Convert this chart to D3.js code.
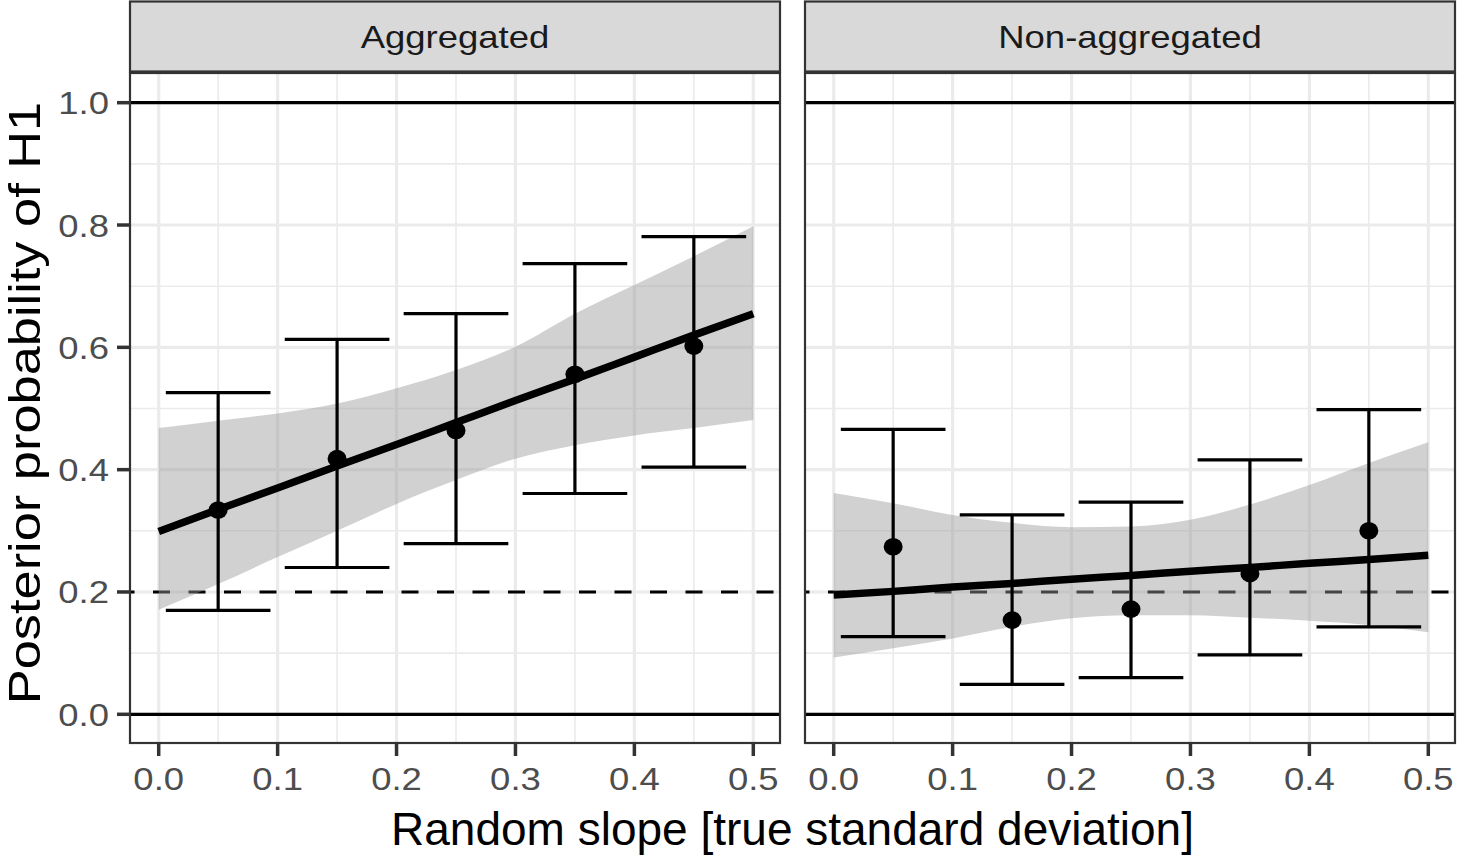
<!DOCTYPE html>
<html><head><meta charset="utf-8">
<script src="https://cdn.jsdelivr.net/npm/d3@7"></script>
<style>body{margin:0;background:#fff}svg{display:block}text{font-family:"Liberation Sans",Arial,sans-serif}</style>
</head><body>
<script>
// ---- data ----
const panels = ["Aggregated", "Non-aggregated"];
const pointX = [0.05, 0.15, 0.25, 0.35, 0.45];
const aggMean = [0.334, 0.418, 0.464, 0.556, 0.602];
const aggUpper = [0.526, 0.613, 0.655, 0.737, 0.781];
const aggLower = [0.170, 0.240, 0.279, 0.361, 0.404];
const nonMean = [0.274, 0.154, 0.172, 0.230, 0.300];
const nonUpper = [0.466, 0.326, 0.347, 0.416, 0.498];
const nonLower = [0.127, 0.049, 0.060, 0.097, 0.143];
const fitX = [0, 0.05, 0.1, 0.15, 0.2, 0.25, 0.3, 0.35, 0.4, 0.45, 0.5];
const aggFit = [0.299, 0.335, 0.370, 0.406, 0.441, 0.477, 0.513, 0.548, 0.584, 0.620, 0.655];
const aggFitHi = [0.468, 0.480, 0.492, 0.508, 0.533, 0.563, 0.601, 0.655, 0.702, 0.749, 0.798];
const aggFitLo = [0.171, 0.213, 0.257, 0.300, 0.344, 0.383, 0.418, 0.440, 0.456, 0.468, 0.481];
const nonFit = [0.195, 0.201, 0.208, 0.214, 0.221, 0.227, 0.234, 0.240, 0.247, 0.253, 0.260];
const nonFitHi = [0.362, 0.345, 0.326, 0.313, 0.306, 0.307, 0.318, 0.343, 0.375, 0.411, 0.445];
const nonFitLo = [0.093, 0.108, 0.124, 0.143, 0.157, 0.162, 0.162, 0.158, 0.153, 0.146, 0.134];
const xTicks = [0, 0.1, 0.2, 0.3, 0.4, 0.5];
const xMinor = [0.05, 0.15, 0.25, 0.35, 0.45];
const yTicks = [0, 0.2, 0.4, 0.6, 0.8, 1.0];
const yMinor = [0.1, 0.3, 0.5, 0.7, 0.9];
const hSolid = [0, 1];
const hDashed = [0.2];
const xTitle = "Random slope [true standard deviation]";
const yTitle = "Posterior probability of H1";

const series = [
  {mean: aggMean, up: aggUpper, lo: aggLower, fit: aggFit, hi: aggFitHi, flo: aggFitLo},
  {mean: nonMean, up: nonUpper, lo: nonLower, fit: nonFit, hi: nonFitHi, flo: nonFitLo}
];

// ---- layout ----
const W = 1457, H = 856;
const panelLeft = [130, 805], panelW = 650;
const panelTop = 73, panelBottom = 743;
const stripTop = 1.5, stripBottom = 71.5;
const TX = 1.14; // horizontal text stretch

const svg = d3.select("body").append("svg").attr("width", W).attr("height", H);
const y = d3.scaleLinear().domain([0, 1]).range([714.3, 102.7]);
const x = d3.scaleLinear().domain([0, 0.5]).range([28.7, 623.3]);
const fmt = d3.format(".1f");

panels.forEach((name, i) => {
  const s = series[i];
  const g = svg.append("g").attr("transform", `translate(${panelLeft[i]},0)`);
  const cid = "clip" + i;
  g.append("clipPath").attr("id", cid).append("rect")
    .attr("x", 0).attr("y", panelTop).attr("width", panelW).attr("height", panelBottom - panelTop);
  const pg = g.append("g").attr("clip-path", `url(#${cid})`);
  pg.append("rect").attr("x", 0).attr("y", panelTop).attr("width", panelW).attr("height", panelBottom - panelTop).attr("fill", "#fff");
  // grid
  pg.selectAll(".ymin").data(yMinor).join("line")
    .attr("x1", 0).attr("x2", panelW).attr("y1", d => y(d)).attr("y2", d => y(d))
    .attr("stroke", "#EBEBEB").attr("stroke-width", 1.6);
  pg.selectAll(".xmin").data(xMinor).join("line")
    .attr("y1", panelTop).attr("y2", panelBottom).attr("x1", d => x(d)).attr("x2", d => x(d))
    .attr("stroke", "#EBEBEB").attr("stroke-width", 1.6);
  pg.selectAll(".ymaj").data(yTicks).join("line")
    .attr("x1", 0).attr("x2", panelW).attr("y1", d => y(d)).attr("y2", d => y(d))
    .attr("stroke", "#EBEBEB").attr("stroke-width", 3.2);
  pg.selectAll(".xmaj").data(xTicks).join("line")
    .attr("y1", panelTop).attr("y2", panelBottom).attr("x1", d => x(d)).attr("x2", d => x(d))
    .attr("stroke", "#EBEBEB").attr("stroke-width", 3.2);
  // reference lines
  pg.selectAll(".hs").data(hSolid).join("line")
    .attr("x1", 0).attr("x2", panelW).attr("y1", d => y(d)).attr("y2", d => y(d))
    .attr("stroke", "#000").attr("stroke-width", 3.2);
  pg.selectAll(".hd").data(hDashed).join("line")
    .attr("x1", 0).attr("x2", panelW).attr("y1", d => y(d)).attr("y2", d => y(d))
    .attr("stroke", "#000").attr("stroke-width", 3.2).attr("stroke-dasharray", "17,18.5").attr("stroke-dashoffset", 12.5);
  // ribbon
  const area = d3.area().x((d, j) => x(fitX[j])).y0((d, j) => y(s.flo[j])).y1((d, j) => y(s.hi[j])).curve(d3.curveMonotoneX);
  pg.append("path").datum(fitX).attr("d", area).attr("fill", "#999999").attr("fill-opacity", 0.45);
  // fit line
  const line = d3.line().x((d, j) => x(fitX[j])).y((d, j) => y(s.fit[j])).curve(d3.curveMonotoneX);
  pg.append("path").datum(fitX).attr("d", line).attr("fill", "none").attr("stroke", "#000").attr("stroke-width", 7.5);
  // error bars
  const hw = 0.044;
  const eb = pg.selectAll(".eb").data(pointX).join("g");
  eb.append("line").attr("x1", d => x(d)).attr("x2", d => x(d))
    .attr("y1", (d, j) => y(s.lo[j])).attr("y2", (d, j) => y(s.up[j])).attr("stroke", "#000").attr("stroke-width", 3.2);
  eb.append("line").attr("x1", d => x(d - hw)).attr("x2", d => x(d + hw))
    .attr("y1", (d, j) => y(s.up[j])).attr("y2", (d, j) => y(s.up[j])).attr("stroke", "#000").attr("stroke-width", 3.2);
  eb.append("line").attr("x1", d => x(d - hw)).attr("x2", d => x(d + hw))
    .attr("y1", (d, j) => y(s.lo[j])).attr("y2", (d, j) => y(s.lo[j])).attr("stroke", "#000").attr("stroke-width", 3.2);
  // points
  pg.selectAll(".pt").data(pointX).join("ellipse")
    .attr("cx", d => x(d)).attr("cy", (d, j) => y(s.mean[j])).attr("rx", 9.5).attr("ry", 8.8).attr("fill", "#000");
  // panel border
  g.append("rect").attr("x", 0).attr("y", panelTop).attr("width", panelW).attr("height", panelBottom - panelTop)
    .attr("fill", "none").attr("stroke", "#333").attr("stroke-width", 2.2);
  // strip
  g.append("rect").attr("x", 0).attr("y", stripTop).attr("width", panelW).attr("height", stripBottom - stripTop)
    .attr("fill", "#D9D9D9").attr("stroke", "#333").attr("stroke-width", 2.2);
  g.append("g").attr("transform", `translate(${panelW / 2},${(stripTop + stripBottom) / 2 + 11}) scale(${TX},1)`)
    .append("text").attr("text-anchor", "middle").attr("font-size", 32).attr("fill", "#1A1A1A").text(name);
  // x axis
  g.selectAll(".xt").data(xTicks).join("line")
    .attr("x1", d => x(d)).attr("x2", d => x(d)).attr("y1", panelBottom).attr("y2", panelBottom + 13)
    .attr("stroke", "#333").attr("stroke-width", 3.5);
  g.selectAll(".xl").data(xTicks).join("g")
    .attr("transform", d => `translate(${x(d)},790) scale(${TX},1)`)
    .append("text").attr("text-anchor", "middle").attr("font-size", 32).attr("fill", "#4D4D4D").text(d => fmt(d));
  if (i === 0) {
    g.selectAll(".yt").data(yTicks).join("line")
      .attr("x1", -13).attr("x2", 0).attr("y1", d => y(d)).attr("y2", d => y(d))
      .attr("stroke", "#333").attr("stroke-width", 3.5);
    g.selectAll(".yl").data(yTicks).join("g")
      .attr("transform", d => `translate(-21,${y(d) + 11.5}) scale(${TX},1)`)
      .append("text").attr("text-anchor", "end").attr("font-size", 32).attr("fill", "#4D4D4D").text(d => fmt(d));
  }
});

// axis titles
svg.append("text").attr("x", (panelLeft[0] + panelLeft[1] + panelW) / 2).attr("y", 845)
  .attr("text-anchor", "middle").attr("font-size", 46).attr("fill", "#000").text(xTitle);
svg.append("g").attr("transform", `translate(40,403) rotate(-90) scale(1.19,1)`)
  .append("text").attr("text-anchor", "middle").attr("font-size", 44).attr("fill", "#000").text(yTitle);
</script>
</body></html>
